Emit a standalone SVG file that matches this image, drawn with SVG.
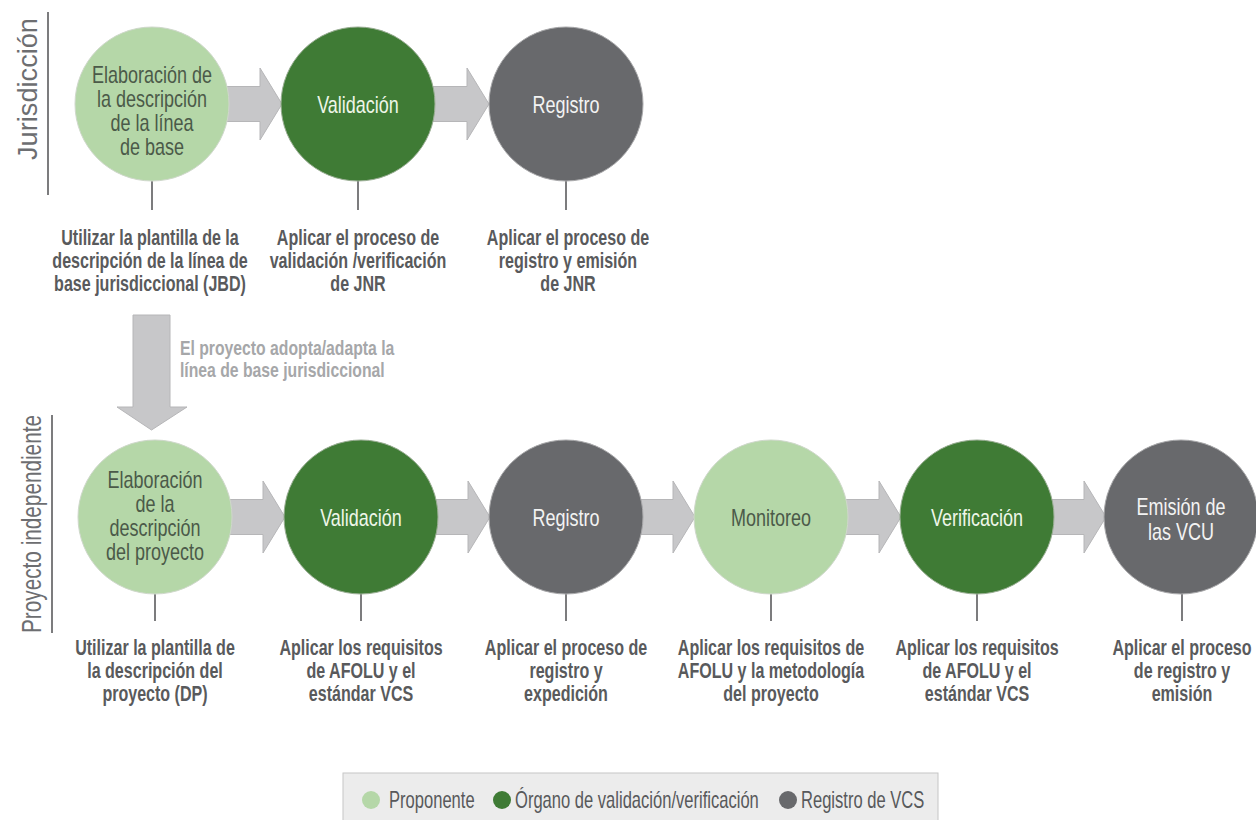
<svg xmlns="http://www.w3.org/2000/svg" width="1256" height="820" viewBox="0 0 1256 820">
<style>
  text { font-family: "Liberation Sans", Arial, sans-serif; }
  .ct { font-size: 24px; text-anchor: middle; }
  .cap { font-size: 22px; font-weight: bold; fill: #595a5c; text-anchor: middle; }
  .lg { fill: #b5d7a8; stroke: #cfd8cb; stroke-width: 1; }
  .dg { fill: #3f7b35; stroke: #9aae94; stroke-width: 1; }
  .gy { fill: #68696c; stroke: #a9a9ab; stroke-width: 1; }
  .tlg { fill: #4b5a49; }
  .tdg { fill: #eef6e8; }
  .tgy { fill: #f3f3f3; }
  .arrow { fill: #c7c7c9; stroke: #b6b6b8; stroke-width: 1; }
  .stem { stroke: #7c7c7e; stroke-width: 2; }
  .side { font-size: 27px; fill: #6d6e71; text-anchor: middle; }
  .sideline { stroke: #7c7c7e; stroke-width: 2; }
  .note { font-size: 21px; font-weight: bold; fill: #a6a7a9; }
  .leg { font-size: 23px; fill: #58595b; }
</style>

<g id="lanes">
  <line class="sideline" x1="48" y1="12" x2="48" y2="195"/>
  <text class="side" transform="translate(37 89) rotate(-90)" textLength="142" lengthAdjust="spacingAndGlyphs">Jurisdicción</text>
  <line class="sideline" x1="52" y1="415" x2="52" y2="633"/>
  <text class="side" transform="translate(41 524) rotate(-90)" textLength="218" lengthAdjust="spacingAndGlyphs">Proyecto independiente</text>
</g>

<g id="connectors">
  <path class="arrow" d="M200 86.5 H260 V68 L282 104 L260 140 V121.5 H200 Z"/>
  <path class="arrow" d="M400 86.5 H467 V68 L489 104 L467 140 V121.5 H400 Z"/>
  <path class="arrow" d="M133 315 H170 V407 H187 L151.5 430 L117 407 H133 Z"/>
  <path class="arrow" d="M200 499.5 H263 V481 L285 517 L263 553 V534.5 H200 Z"/>
  <path class="arrow" d="M410 499.5 H468 V481 L490 517 L468 553 V534.5 H410 Z"/>
  <path class="arrow" d="M615 499.5 H673 V481 L695 517 L673 553 V534.5 H615 Z"/>
  <path class="arrow" d="M820 499.5 H879 V481 L901 517 L879 553 V534.5 H820 Z"/>
  <path class="arrow" d="M1025 499.5 H1084 V481 L1106 517 L1084 553 V534.5 H1025 Z"/>
  <line class="stem" x1="152" y1="181" x2="152" y2="210"/>
  <line class="stem" x1="358" y1="181" x2="358" y2="210"/>
  <line class="stem" x1="566" y1="181" x2="566" y2="210"/>
  <line class="stem" x1="155" y1="594" x2="155" y2="621"/>
  <line class="stem" x1="361" y1="594" x2="361" y2="621"/>
  <line class="stem" x1="566" y1="594" x2="566" y2="621"/>
  <line class="stem" x1="771" y1="594" x2="771" y2="621"/>
  <line class="stem" x1="977" y1="594" x2="977" y2="621"/>
  <line class="stem" x1="1182" y1="594" x2="1182" y2="621"/>
  <text class="note" transform="translate(180 0) scale(0.75 1)"><tspan x="0" y="355">El proyecto adopta/adapta la</tspan><tspan x="0" y="377">línea de base jurisdiccional</tspan></text>
</g>

<g id="j-elaboracion">
  <circle class="lg" cx="152" cy="104" r="77"/>
  <text class="ct tlg" transform="translate(152 0) scale(0.75 1)"><tspan x="0" y="83">Elaboración de</tspan><tspan x="0" y="107">la descripción</tspan><tspan x="0" y="131">de la línea</tspan><tspan x="0" y="155">de base</tspan></text>
  <text class="cap" transform="translate(150 0) scale(0.73 1)"><tspan x="0" y="245">Utilizar la plantilla de la</tspan><tspan x="0" y="268">descripción de la línea de</tspan><tspan x="0" y="291">base jurisdiccional (JBD)</tspan></text>
</g>

<g id="j-validacion">
  <circle class="dg" cx="358" cy="104" r="77"/>
  <text class="ct tdg" transform="translate(358 0) scale(0.75 1)"><tspan x="0" y="113">Validación</tspan></text>
  <text class="cap" transform="translate(358 0) scale(0.73 1)"><tspan x="0" y="245">Aplicar el proceso de</tspan><tspan x="0" y="268">validación /verificación</tspan><tspan x="0" y="291">de JNR</tspan></text>
</g>

<g id="j-registro">
  <circle class="gy" cx="566" cy="104" r="77"/>
  <text class="ct tgy" transform="translate(566 0) scale(0.75 1)"><tspan x="0" y="113">Registro</tspan></text>
  <text class="cap" transform="translate(568 0) scale(0.73 1)"><tspan x="0" y="245">Aplicar el proceso de</tspan><tspan x="0" y="268">registro y emisión</tspan><tspan x="0" y="291">de JNR</tspan></text>
</g>

<g id="p-elaboracion">
  <circle class="lg" cx="155" cy="517" r="77"/>
  <text class="ct tlg" transform="translate(155 0) scale(0.75 1)"><tspan x="0" y="488">Elaboración</tspan><tspan x="0" y="512">de la</tspan><tspan x="0" y="536">descripción</tspan><tspan x="0" y="560">del proyecto</tspan></text>
  <text class="cap" transform="translate(155 0) scale(0.73 1)"><tspan x="0" y="655">Utilizar la plantilla de</tspan><tspan x="0" y="678">la descripción del</tspan><tspan x="0" y="701">proyecto (DP)</tspan></text>
</g>

<g id="p-validacion">
  <circle class="dg" cx="361" cy="517" r="77"/>
  <text class="ct tdg" transform="translate(361 0) scale(0.75 1)"><tspan x="0" y="526">Validación</tspan></text>
  <text class="cap" transform="translate(361 0) scale(0.73 1)"><tspan x="0" y="655">Aplicar los requisitos</tspan><tspan x="0" y="678">de AFOLU y el</tspan><tspan x="0" y="701">estándar VCS</tspan></text>
</g>

<g id="p-registro">
  <circle class="gy" cx="566" cy="517" r="77"/>
  <text class="ct tgy" transform="translate(566 0) scale(0.75 1)"><tspan x="0" y="526">Registro</tspan></text>
  <text class="cap" transform="translate(566 0) scale(0.73 1)"><tspan x="0" y="655">Aplicar el proceso de</tspan><tspan x="0" y="678">registro y</tspan><tspan x="0" y="701">expedición</tspan></text>
</g>

<g id="p-monitoreo">
  <circle class="lg" cx="771" cy="517" r="77"/>
  <text class="ct tlg" transform="translate(771 0) scale(0.75 1)"><tspan x="0" y="526">Monitoreo</tspan></text>
  <text class="cap" transform="translate(771 0) scale(0.73 1)"><tspan x="0" y="655">Aplicar los requisitos de</tspan><tspan x="0" y="678">AFOLU y la metodología</tspan><tspan x="0" y="701">del proyecto</tspan></text>
</g>

<g id="p-verificacion">
  <circle class="dg" cx="977" cy="517" r="77"/>
  <text class="ct tdg" transform="translate(977 0) scale(0.75 1)"><tspan x="0" y="526">Verificación</tspan></text>
  <text class="cap" transform="translate(977 0) scale(0.73 1)"><tspan x="0" y="655">Aplicar los requisitos</tspan><tspan x="0" y="678">de AFOLU y el</tspan><tspan x="0" y="701">estándar VCS</tspan></text>
</g>

<g id="p-emision">
  <circle class="gy" cx="1181" cy="517" r="77"/>
  <text class="ct tgy" transform="translate(1181 0) scale(0.75 1)"><tspan x="0" y="515">Emisión de</tspan><tspan x="0" y="540">las VCU</tspan></text>
  <text class="cap" transform="translate(1182 0) scale(0.73 1)"><tspan x="0" y="655">Aplicar el proceso</tspan><tspan x="0" y="678">de registro y</tspan><tspan x="0" y="701">emisión</tspan></text>
</g>

<g id="legend">
  <rect x="343" y="773" width="595" height="60" fill="#ececec" stroke="#c6c6c6" stroke-width="1"/>
  <circle cx="371" cy="800" r="9" fill="#b5d7a8"/>
  <text class="leg" transform="translate(389 0) scale(0.72 1)" x="0" y="808">Proponente</text>
  <circle cx="502" cy="800" r="9" fill="#3f7b35"/>
  <text class="leg" transform="translate(515 0) scale(0.72 1)" x="0" y="808">Órgano de validación/verificación</text>
  <circle cx="788" cy="800" r="9" fill="#68696c"/>
  <text class="leg" transform="translate(801 0) scale(0.72 1)" x="0" y="808">Registro de VCS</text>
</g>
</svg>
